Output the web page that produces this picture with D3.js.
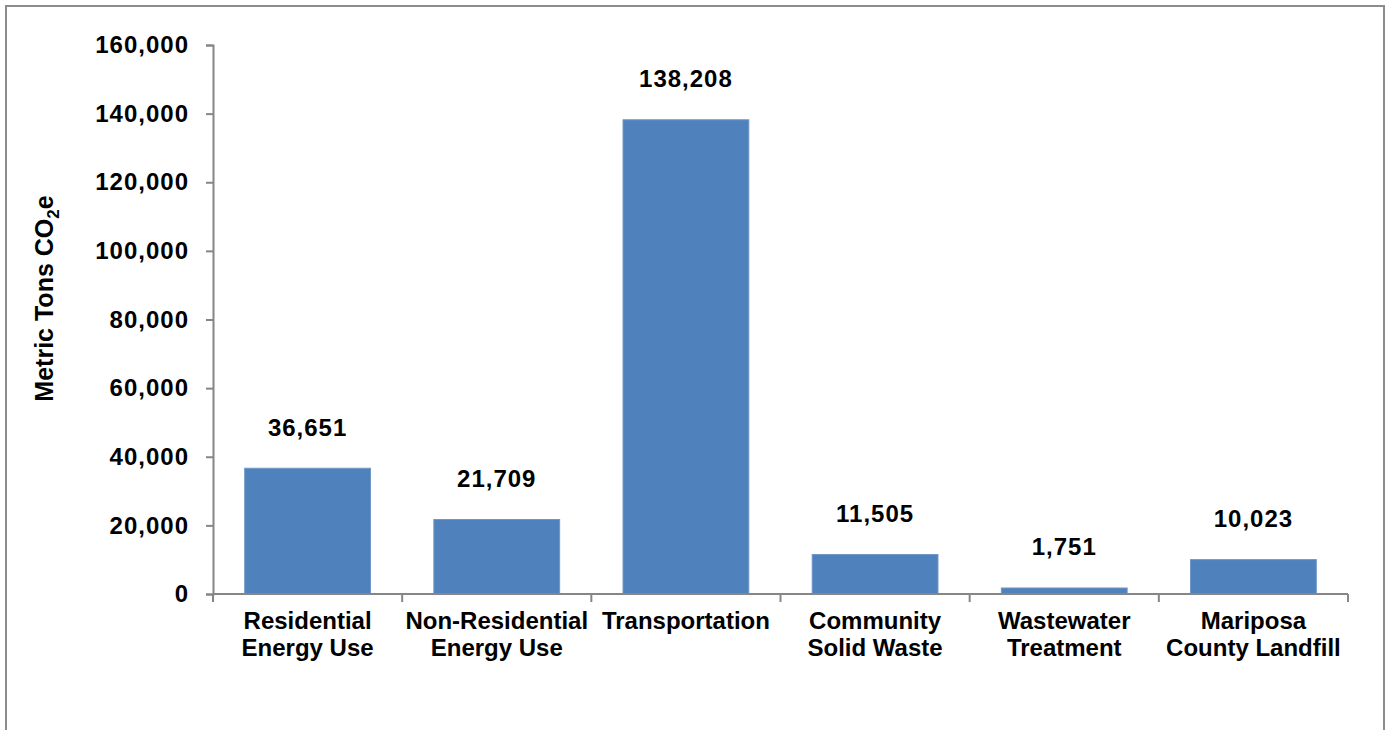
<!DOCTYPE html>
<html>
<head>
<meta charset="utf-8">
<script src="https://cdn.jsdelivr.net/npm/d3@7"></script>
<style>
  body { margin: 0; background: #fff; }
  text { font-family: "Liberation Sans", Arial, sans-serif; font-weight: bold; fill: #000; }
</style>
</head>
<body>
<div id="chart"></div>
<script>
// chart data
const categories = [
    ["Residential", "Energy Use"],
    ["Non-Residential", "Energy Use"],
    ["Transportation"],
    ["Community", "Solid Waste"],
    ["Wastewater", "Treatment"],
    ["Mariposa", "County Landfill"]
];
const emissions = [36651, 21709, 138208, 11505, 1751, 10023];
const yTicks = [0, 20000, 40000, 60000, 80000, 100000, 120000, 140000, 160000];

let svgWidth = 1390,
    svgHeight = 730;
let margins = {left: 213, top: 45, right: 42, bottom: 136},
    width = svgWidth - margins.left - margins.right,
    height = svgHeight - margins.top - margins.bottom;

let svg = d3.select("#chart").append("svg")
    .attr("width", svgWidth)
    .attr("height", svgHeight);

// outer frame (bottom edge runs off the picture)
svg.append("path")
    .attr("d", "M6,740 V6 H1384 V740")
    .attr("fill", "none")
    .attr("stroke", "#8c8c8c")
    .attr("stroke-width", 2);

let g = svg.append("g")
    .attr("transform", `translate(${margins.left}, ${margins.top})`);

let x = d3.scaleBand().domain(d3.range(categories.length)).range([0, width])
        .paddingInner(0.335).paddingOuter(0.1675),
    y = d3.scaleLinear().domain([0, 160000]).range([height, 0]);

let fmt = d3.format(",");

//bars
g.selectAll("rect.bar")
    .data(emissions)
    .enter().append("rect")
    .attr("class", "bar")
    .attr("x", (d, i) => x(i))
    .attr("y", d => y(d))
    .attr("width", x.bandwidth())
    .attr("height", d => y(0) - y(d))
    .attr("fill", "#4f81bd")
    .attr("stroke", "#6f97c8")
    .attr("stroke-width", 1);

//value labels
g.selectAll("text.value")
    .data(emissions)
    .enter().append("text")
    .attr("class", "value")
    .attr("x", (d, i) => x(i) + x.bandwidth() / 2)
    .attr("y", d => y(d) - 41)
    .attr("text-anchor", "middle")
    .attr("dominant-baseline", "central")
    .style("font-size", "24px")
    .style("letter-spacing", "1px")
    .text(d => fmt(d));

//y axis
let yAxis = g.append("g")
    .call(d3.axisLeft(y).tickValues(yTicks).tickFormat(fmt).tickSize(7).tickPadding(17));
yAxis.selectAll("text").style("font-size", "24px").style("letter-spacing", "1px");

//x axis with ticks between categories
let xEdges = d3.range(categories.length + 1).map(i => i * width / categories.length);
let xAxis = g.append("g").attr("transform", `translate(0, ${height})`);
xAxis.append("line")
    .attr("x1", 0).attr("x2", width)
    .attr("stroke", "#868686").attr("stroke-width", 2);
xAxis.selectAll("line.tick")
    .data(xEdges)
    .enter().append("line")
    .attr("class", "tick")
    .attr("x1", d => d).attr("x2", d => d)
    .attr("y1", 0).attr("y2", 8)
    .attr("stroke", "#868686").attr("stroke-width", 2);

yAxis.select(".domain").attr("stroke", "#868686").attr("stroke-width", 2);
yAxis.selectAll(".tick line").attr("stroke", "#868686").attr("stroke-width", 2);

xAxis.selectAll("text.cat")
    .data(categories)
    .enter().append("text")
    .attr("class", "cat")
    .attr("text-anchor", "middle")
    .style("font-size", "24px")
    .attr("transform", (d, i) => `translate(${x(i) + x.bandwidth() / 2}, 35)`)
    .each(function (d) {
        d3.select(this).selectAll("tspan")
            .data(d)
            .enter().append("tspan")
            .attr("x", 0)
            .attr("dy", (t, j) => j === 0 ? 0 : 27)
            .text(t => t);
    });

//y axis title
let title = svg.append("text")
    .attr("transform", `translate(53, ${margins.top + height / 2 - 21}) rotate(-90)`)
    .attr("text-anchor", "middle")
    .style("font-size", "25px");
title.append("tspan").text("Metric Tons CO");
title.append("tspan").text("2").attr("dy", 6).style("font-size", "17px");
title.append("tspan").text("e").attr("dy", -6);
</script>
</body>
</html>
